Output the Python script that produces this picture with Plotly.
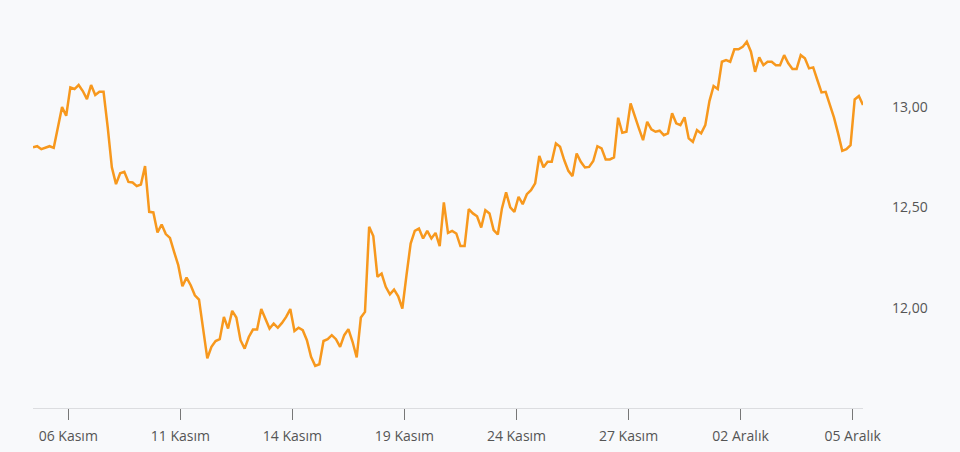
import plotly.graph_objects as go

# Price series (one value per sample, evenly spaced)
prices = [
    12.80, 12.805, 12.79, 12.797, 12.805, 12.797, 12.90, 13.00, 12.957, 13.098,
    13.09, 13.11, 13.08, 13.04, 13.11, 13.06, 13.076, 13.076, 12.90, 12.70,
    12.616, 12.67, 12.677, 12.627, 12.624, 12.606, 12.614, 12.706, 12.478, 12.475,
    12.375, 12.415, 12.367, 12.348, 12.278, 12.212, 12.107, 12.15, 12.112, 12.062,
    12.04, 11.89, 11.747, 11.805, 11.834, 11.843, 11.954, 11.896, 11.984, 11.951,
    11.838, 11.796, 11.854, 11.891, 11.891, 11.993, 11.946, 11.896, 11.921, 11.90,
    11.924, 11.954, 11.993, 11.884, 11.90, 11.888, 11.838, 11.755, 11.71, 11.718,
    11.834, 11.843, 11.863, 11.843, 11.805, 11.863, 11.893, 11.83, 11.752, 11.951,
    11.979, 12.403, 12.357, 12.154, 12.17, 12.104, 12.067, 12.09, 12.057, 11.996,
    12.162, 12.32, 12.383, 12.395, 12.345, 12.383, 12.345, 12.373, 12.307, 12.525,
    12.373, 12.383, 12.37, 12.307, 12.307, 12.491, 12.47, 12.456, 12.40, 12.486,
    12.47, 12.387, 12.365, 12.495, 12.575, 12.50, 12.478, 12.553, 12.516, 12.566,
    12.586, 12.62, 12.756, 12.70, 12.727, 12.727, 12.819, 12.802, 12.736, 12.682,
    12.656, 12.769, 12.727, 12.699, 12.702, 12.731, 12.805, 12.794, 12.739, 12.739,
    12.749, 12.947, 12.872, 12.877, 13.018, 12.952, 12.894, 12.835, 12.927, 12.889,
    12.877, 12.882, 12.86, 12.869, 12.969, 12.919, 12.91, 12.949, 12.844, 12.827,
    12.885, 12.869, 12.91, 13.03, 13.105, 13.09, 13.226, 13.234, 13.226, 13.288,
    13.288, 13.30, 13.326, 13.276, 13.176, 13.248, 13.209, 13.226, 13.226, 13.209,
    13.209, 13.259, 13.218, 13.19, 13.19, 13.259, 13.243, 13.193, 13.198, 13.135,
    13.073, 13.076, 13.018, 12.949, 12.869, 12.782, 12.79, 12.81, 13.038, 13.055,
    13.01,
]
sample_index = list(range(len(prices)))

tick_labels = ["06 Kasım", "11 Kasım", "14 Kasım", "19 Kasım",
               "24 Kasım", "27 Kasım", "02 Aralık", "05 Aralık"]
tick_positions = [8.5, 35.5, 62.5, 89.5, 116.5, 143.5, 170.5, 197.5]
y_ticks = [12.0, 12.5, 13.0]

bg = "#f8f9fb"

fig = go.Figure()
fig.add_trace(go.Scatter(
    x=sample_index, y=prices, mode="lines",
    line=dict(color="#f7981d", width=2.5),
    hoverinfo="skip", showlegend=False,
))

fig.update_layout(
    width=960, height=452,
    margin=dict(l=33, r=97, t=10, b=44),
    paper_bgcolor=bg, plot_bgcolor=bg,
    separators=", ",
    font=dict(family="Open Sans, sans-serif", size=14, color="#555"),
    xaxis=dict(
        range=[0, 200], showgrid=False, zeroline=False, automargin=False,
        showline=True, linecolor="#dcdde0", linewidth=1,
        tickmode="array", tickvals=tick_positions, ticktext=tick_labels,
        ticks="outside", ticklen=11, tickwidth=1, tickcolor="#777",
        ticklabelstandoff=4,
    ),
    yaxis=dict(
        range=[11.5, 13.484], side="right", showgrid=False, zeroline=False,
        automargin=False, showline=False,
        tickmode="array", tickvals=y_ticks, tickformat=".2f",
        ticks="", ticklabelstandoff=28,
    ),
)

fig.write_html(
    "out.html",
    config={"displayModeBar": False},
    post_script="document.body.style.margin='0';document.body.style.overflow='hidden';"
                "document.body.style.background='#f8f9fb';",
)
